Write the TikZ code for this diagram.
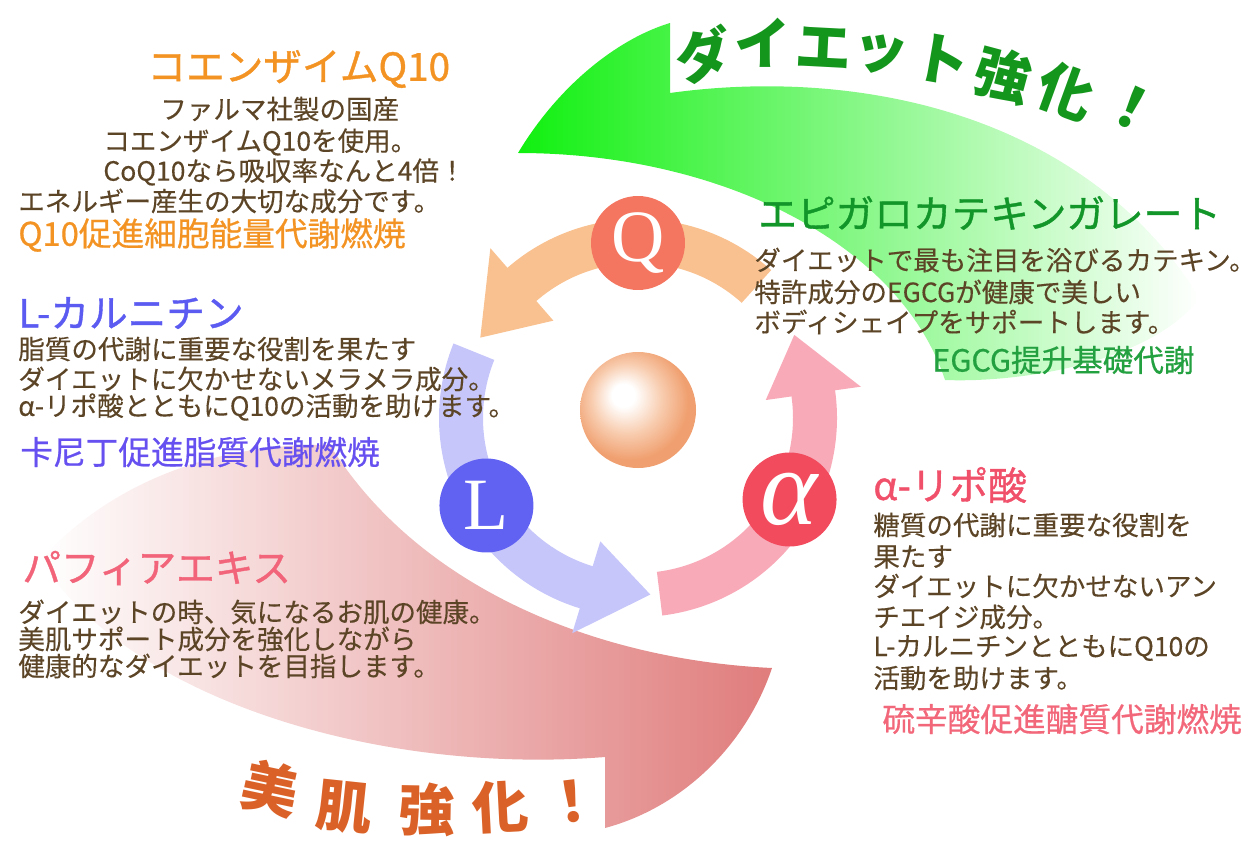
\documentclass[tikz,border=0pt]{standalone}
\usepackage{fontspec}
\setmainfont{Noto Sans CJK JP}
\newfontfamily\serifletter{Liberation Serif}
\newfontfamily\titlefont[FakeBold=1]{Noto Sans CJK JP}
\newfontfamily\tagfont[FakeBold=0.6]{Noto Sans CJK JP}
\newfontfamily\bodyfont[FakeBold=0.3]{Noto Sans CJK JP}
\usetikzlibrary{calc}

\definecolor{bodytext}{HTML}{5C4527}
\definecolor{qarc}{HTML}{F9C18F}
\definecolor{larc}{HTML}{C6C6FA}
\definecolor{aarc}{HTML}{F8AAB8}
\definecolor{qdot}{HTML}{F47560}
\definecolor{ldot}{HTML}{6262F2}
\definecolor{adot}{HTML}{F24B5E}
\definecolor{dietgreen}{HTML}{10F010}
\definecolor{skinpink}{HTML}{E07C7C}
\definecolor{dietword}{HTML}{14961C}
\definecolor{skinword}{HTML}{DA6228}
\definecolor{qtitle}{HTML}{F39323}
\definecolor{ltitle}{HTML}{5B5BF2}
\definecolor{ptitle}{HTML}{F26479}
\definecolor{etitle}{HTML}{12962A}
\definecolor{atitle}{HTML}{F0506A}
\definecolor{ltag}{HTML}{6650F0}
\definecolor{etag}{HTML}{23A040}
\definecolor{atag}{HTML}{F2687A}
\definecolor{pearledge}{HTML}{F0A070}
\definecolor{pearlmid}{HTML}{F8CDB0}

% soft highlight, a little up and left of the middle
\pgfdeclareradialshading{pearl}{\pgfpoint{-7bp}{7bp}}{%
  color(0bp)=(white); color(5bp)=(white); color(15bp)=(pearlmid);
  color(25bp)=(pearledge); color(50bp)=(pearledge)}

\begin{document}
\begin{tikzpicture}[
  x=0.02cm, y=0.02cm,
  body/.style={font=\bodyfont\fontsize{15.1}{16}\selectfont, text=bodytext, anchor=west, inner sep=0pt},
  title/.style={font=\titlefont\fontsize{22}{24}\selectfont, anchor=west, inner sep=0pt},
  tagline/.style={font=\tagfont\fontsize{18.6}{20}\selectfont, anchor=west, inner sep=0pt},
  badge/.style={circle, minimum size=1.88cm, inner sep=0pt, text=white,
    font=\serifletter\fontsize{42}{42}\selectfont},
  bigword/.style={font=\bfseries\fontsize{32}{32}\selectfont, inner sep=0pt},
]
\useasboundingbox (0,0) rectangle (1254,843);

% ---- big swooshes behind everything ----
\shade[left color=dietgreen, middle color=dietgreen!55!white, right color=white]
  (518,690) .. controls (560,760) and (620,805) .. (670,820)
  -- (670,750) .. controls (850,775) and (1080,735) .. (1200,545)
  .. controls (1150,480) and (1020,460) .. (945,463)
  .. controls (900,600) and (720,690) .. (518,690) -- cycle;
\shade[left color=white, middle color=skinpink!50!white, right color=skinpink]
  (772,175) .. controls (745,95) and (680,35) .. (605,15)
  -- (605,86) .. controls (380,68) and (130,143) .. (40,283)
  .. controls (120,370) and (230,400) .. (330,398)
  .. controls (420,253) and (600,183) .. (772,175) -- cycle;

% ---- cycle of three arrows round the middle ----
\coordinate (c) at (638,425);
\foreach \col/\a/\b/\t in {qarc/48/131/153, larc/158/253/274, aarc/277/368/388} {
  \fill[\col] ($(c)+(\a:155)$) arc[start angle=\a, end angle=\b, radius=155]
    -- ($(c)+(\b:129)$) -- ($(c)+(\t:177)$) -- ($(c)+(\b:225)$)
    -- ($(c)+(\b:199)$) arc[start angle=\b, end angle=\a, radius=199] -- cycle;
}
\node[badge, fill=qdot] (q) at ($(c)+(90:175)$) {Q};
\node[badge, fill=ldot] (l) at ($(c)+(210:175)$) {L};
\node[badge, fill=adot, font=\serifletter\itshape\fontsize{62}{62}\selectfont] (a)
  at ($(c)+(330:175)+(0,6)$) {α};
\shade[shading=pearl] (638,433) circle (58);

% ---- coenzyme Q10 ----
\node[title, text=qtitle] (qhead) at (147,774) {コエンザイムQ10};
\foreach \tx/\ty/\s [count=\i] in {160/734/ファルマ社製の国産, 103/701/コエンザイムQ10を使用。,
    103/671/CoQ10なら吸収率なんと4倍！, 18/642/エネルギー産生の大切な成分です。}
  \node[body] (qline\i) at (\tx,\ty) {\s};
\node[tagline, text=qtitle] (qtag) at (18,608) {Q10促進細胞能量代謝燃焼};

% ---- L-carnitine ----
\node[title, text=ltitle] (lhead) at (18,530) {L-カルニチン};
\foreach \ty/\s [count=\i] in {494/脂質の代謝に重要な役割を果たす, 464/ダイエットに欠かせないメラメラ成分。,
    436/α-リポ酸とともにQ10の活動を助けます。}
  \node[body] (lline\i) at (18,\ty) {\s};
\node[tagline, text=ltag] (ltagline) at (20,391) {卡尼丁促進脂質代謝燃焼};

% ---- pfaffia extract ----
\node[title, text=ptitle] (phead) at (22,275) {パフィアエキス};
\foreach \ty/\s [count=\i] in {231/ダイエットの時、気になるお肌の健康。, 204/美肌サポート成分を強化しながら,
    177/健康的なダイエットを目指します。}
  \node[body] (pline\i) at (18,\ty) {\s};

% ---- EGCG ----
\node[title, text=etitle] (ehead) at (758,630) {エピガロカテキンガレート};
\foreach \ty/\s [count=\i] in {583/ダイエットで最も注目を浴びるカテキン。, 551/特許成分のEGCGが健康で美しい,
    521/ボディシェイプをサポートします。}
  \node[body] (eline\i) at (754,\ty) {\s};
\node[tagline, text=etag, font=\tagfont\fontsize{17.4}{18}\selectfont] (etagline) at (932,483) {EGCG提升基礎代謝};

% ---- alpha-lipoic acid ----
\node[title, text=atitle] (ahead) at (873,358) {α-リポ酸};
\foreach \ty/\s [count=\i] in {318/糖質の代謝に重要な役割を, 286/果たす, 257/ダイエットに欠かせないアン,
    226/チエイジ成分。, 195/L-カルニチンとともにQ10の, 165/活動を助けます。}
  \node[body] (aline\i) at (873,\ty) {\s};
\node[tagline, text=atag] (atagline) at (882,124) {硫辛酸促進醣質代謝燃焼};

% ---- slogans along the swooshes ----
\foreach \ch/\px/\py/\r [count=\i] in {ダ/703/788/10, イ/763/800/0, エ/824/795/-3, ッ/880/789/-8,
    ト/942/783/-10, 強/1003/768/-15, 化/1066/752/-20, ！/1132/735/-25}
  \node[bigword, text=dietword, rotate=\r] (diet\i) at (\px,\py) {\ch};
\foreach \ch/\px/\py/\r [count=\i] in {美/270/55/-12, 肌/345/36/-6, 強/427/33/-1, 化/500/36/3, ！/572/41/7}
  \node[bigword, text=skinword, rotate=\r] (skin\i) at (\px,\py) {\ch};

\end{tikzpicture}
\end{document}
